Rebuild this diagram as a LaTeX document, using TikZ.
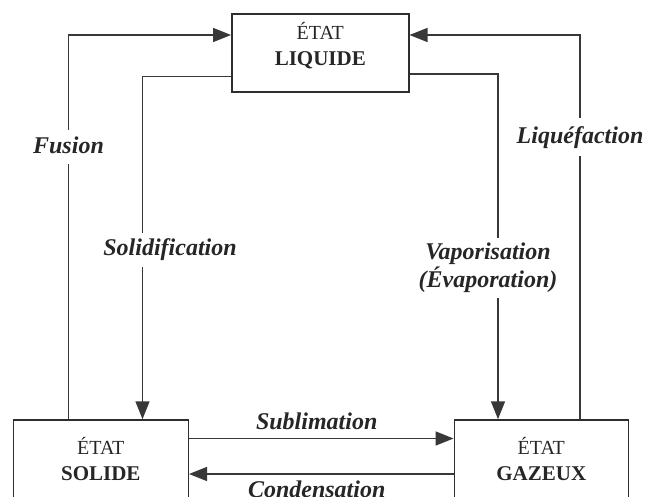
\documentclass[tikz,border=0pt]{standalone}
\usepackage{fontspec}
\setmainfont{Liberation Serif}
\usetikzlibrary{arrows.meta}
\begin{document}
\begin{tikzpicture}[x=1pt,y=-1pt,
  line/.style={draw=black!78, line width=1.5pt},
  arr/.style={line, -{Triangle[length=18pt,width=14pt]}},
  box/.style={draw=black!82, line width=1.5pt, rectangle, inner sep=0pt},
  lblfont/.style={font=\fontsize{24}{28}\selectfont\bfseries\itshape, text=black!85, align=center},
  lbl/.style={lblfont, fill=white, inner xsep=2pt, inner ysep=6pt, text height=17pt, text depth=5pt},
  txt/.style={align=center, font=\fontsize{20}{26}\selectfont, text=black!85}]
\useasboundingbox (0,0) rectangle (645,496);
\clip (0,0) rectangle (645,496);

% boxes
\node[box, minimum width=177pt, minimum height=78pt] (L) at (320.3,52.8) {};
\node[box, minimum width=175pt, minimum height=78pt] (S) at (100.8,459) {};
\node[box, minimum width=174pt, minimum height=78pt] (G) at (541.3,459) {};

\node[txt] (Lt) at (320.3,45.5) {ÉTAT\\\fontsize{21}{26}\selectfont\bfseries LIQUIDE};
\node[txt] (St) at (100.8,459.2) {ÉTAT\\\fontsize{21}{26}\selectfont\bfseries SOLIDE};
\node[txt] (Gt) at (541.3,459.2) {ÉTAT\\\fontsize{21}{26}\selectfont\bfseries GAZEUX};

% corner coordinates
\coordinate (cf) at (68.3,35);
\coordinate (cs) at (142.5,76.5);
\coordinate (cv) at (498,74);
\coordinate (cl) at (580,35);
\coordinate (ysub) at (0,438.5);
\coordinate (ycon) at (0,474);

% connectors
\draw[arr] (S.north -| cf) -- (cf) -- (L.west |- cf);
\draw[arr] (G.north -| cl) -- (cl) -- (L.east |- cl);
\draw[arr] (L.west |- cs) -- (cs) -- (S.north -| cs);
\draw[arr] (L.east |- cv) -- (cv) -- (G.north -| cv);
\draw[arr] (S.east |- ysub) -- (G.west |- ysub);
\draw[arr] (G.west |- ycon) -- (S.east |- ycon);

% labels
\node[lbl] (fus) at (68.5,147) {Fusion};
\node[lbl, inner ysep=8pt] (liq) at (580,137) {Liquéfaction};
\node[lbl] (sol) at (170,249.5) {Solidification};
\node[lblfont, fill=white, inner xsep=2pt, inner ysep=5pt] (vap) at (488,268) {Vaporisation\\(Évaporation)};
\node[lblfont] (sub) at (316.7,421) {Sublimation};
\node[lblfont] (con) at (316.7,489) {Condensation};
\end{tikzpicture}
\end{document}
